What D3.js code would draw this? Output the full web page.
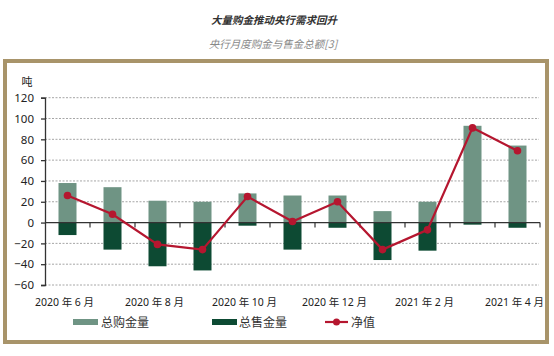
<!DOCTYPE html>
<html><head><meta charset="utf-8">
<script src="https://cdn.jsdelivr.net/npm/d3@7"></script>
<style>
body{margin:0;background:#fff;}
svg{display:block;font-family:"Noto Sans","Noto Sans CJK SC",sans-serif;}
</style></head>
<body>
<svg id="c" width="554" height="356"></svg>
<script>
const months = ["2020-06","2020-07","2020-08","2020-09","2020-10","2020-11","2020-12","2021-01","2021-02","2021-03","2021-04"];
const tickLabels = ["2020 年 6 月","","2020 年 8 月","","2020 年 10 月","","2020 年 12 月","","2021 年 2 月","","2021 年 4 月"];
const purchases = [38, 34, 21, 20, 28, 26, 26, 11, 20, 93, 74];
const sales = [-12, -26, -42, -46, -3, -26, -5, -36, -27, -2, -5];
const net = [26, 8, -21, -26, 25, 1, 20, -26, -7, 91, 69];
const yTicks = [-60, -40, -20, 0, 20, 40, 60, 80, 100, 120];

const svg = d3.select("#c");
const colPur = "#6f9484", colSale = "#0d4a33", colNet = "#b5162f";

// frame
svg.append("rect").attr("x",5).attr("y",61).attr("width",542).attr("height",281)
  .attr("fill","none").attr("stroke","#a8946a").attr("stroke-width",4);

// titles
svg.append("text").attr("x",274).attr("y",24).attr("text-anchor","middle")
  .attr("font-size",10.5).attr("font-weight","bold").attr("font-style","italic")
  .attr("fill","#333").attr("font-family","Noto Sans CJK SC").text("大量购金推动央行需求回升");
svg.append("text").attr("x",273).attr("y",48).attr("text-anchor","middle")
  .attr("font-size",10.5).attr("font-style","italic")
  .attr("fill","#888").attr("font-family","Noto Sans CJK SC").text("央行月度购金与售金总额[3]");

const x = d3.scaleBand().domain(months).range([45, 540]).paddingInner(0.6).paddingOuter(0.3);
const y = d3.scaleLinear().domain([-60, 120]).range([285, 97.7]);

// grid
svg.append("g").selectAll("line").data(yTicks.filter(d=>d!==0)).join("line")
  .attr("x1",45).attr("x2",539).attr("y1",d=>y(d)).attr("y2",d=>y(d))
  .attr("stroke","#a6a6a6").attr("stroke-width",1).attr("stroke-dasharray","2,1.5");

// bars
svg.append("g").selectAll("rect").data(months).join("rect")
  .attr("x",d=>x(d)).attr("width",x.bandwidth())
  .attr("y",(d,i)=>y(purchases[i])).attr("height",(d,i)=>y(0)-y(purchases[i]))
  .attr("fill",colPur);
svg.append("g").selectAll("rect").data(months).join("rect")
  .attr("x",d=>x(d)).attr("width",x.bandwidth())
  .attr("y",y(0)).attr("height",(d,i)=>y(sales[i])-y(0))
  .attr("fill",colSale);

// y axis
const ya = d3.axisLeft(y).tickValues(yTicks).tickSize(4).tickPadding(7);
const yg = svg.append("g").attr("transform","translate(45,0)").call(ya);
yg.select(".domain").attr("stroke","#333").attr("stroke-width",1.3);
yg.selectAll(".tick line").attr("stroke","#333").attr("stroke-width",1.3);
yg.selectAll(".tick text").attr("font-size",11.5).attr("fill","#222").attr("font-family","Noto Sans");

svg.append("text").attr("x",27).attr("y",86).attr("text-anchor","middle")
  .attr("font-size",11).attr("fill","#222").attr("font-family","Noto Sans CJK SC").text("吨");

// zero line with ticks at band boundaries
const zg = svg.append("g").attr("transform",`translate(0,${y(0)})`);
zg.append("line").attr("x1",45).attr("x2",540).attr("stroke","#333").attr("stroke-width",1.3);
const step = x.step();
zg.selectAll("line.tk").data(d3.range(1,12)).join("line").attr("class","tk")
  .attr("x1",d=>45+d*step).attr("x2",d=>45+d*step).attr("y1",0).attr("y2",5)
  .attr("stroke","#333").attr("stroke-width",1.2);

// x labels
svg.append("g").selectAll("text").data(months).join("text")
  .attr("x",d=>x(d)+x.bandwidth()/2-3).attr("y",306).attr("text-anchor","middle")
  .attr("font-size",10.5).attr("fill","#222").attr("font-family","Noto Sans, Noto Sans CJK SC")
  .text((d,i)=>tickLabels[i]);

// net line
const line = d3.line().x((d,i)=>x(months[i])+x.bandwidth()/2).y(d=>y(d));
svg.append("path").datum(net).attr("d",line).attr("fill","none")
  .attr("stroke",colNet).attr("stroke-width",2.2);
svg.append("g").selectAll("circle").data(net).join("circle")
  .attr("cx",(d,i)=>x(months[i])+x.bandwidth()/2).attr("cy",d=>y(d)).attr("r",3.8)
  .attr("fill",colNet);

// legend
const lg = svg.append("g");
const ly = 322;
lg.append("rect").attr("x",73).attr("y",ly-3).attr("width",25).attr("height",6).attr("fill",colPur);
lg.append("text").attr("x",101).attr("y",ly+4.5).attr("font-size",12).attr("fill","#333")
  .attr("font-family","Noto Sans CJK SC").text("总购金量");
lg.append("rect").attr("x",212).attr("y",ly-3).attr("width",25).attr("height",6).attr("fill",colSale);
lg.append("text").attr("x",239).attr("y",ly+4.5).attr("font-size",12).attr("fill","#333")
  .attr("font-family","Noto Sans CJK SC").text("总售金量");
lg.append("line").attr("x1",325).attr("x2",348).attr("y1",ly).attr("y2",ly).attr("stroke",colNet).attr("stroke-width",2.2);
lg.append("circle").attr("cx",336.5).attr("cy",ly).attr("r",3.5).attr("fill",colNet);
lg.append("text").attr("x",351).attr("y",ly+4.5).attr("font-size",12).attr("fill","#333")
  .attr("font-family","Noto Sans CJK SC").text("净值");
</script>
</body></html>
